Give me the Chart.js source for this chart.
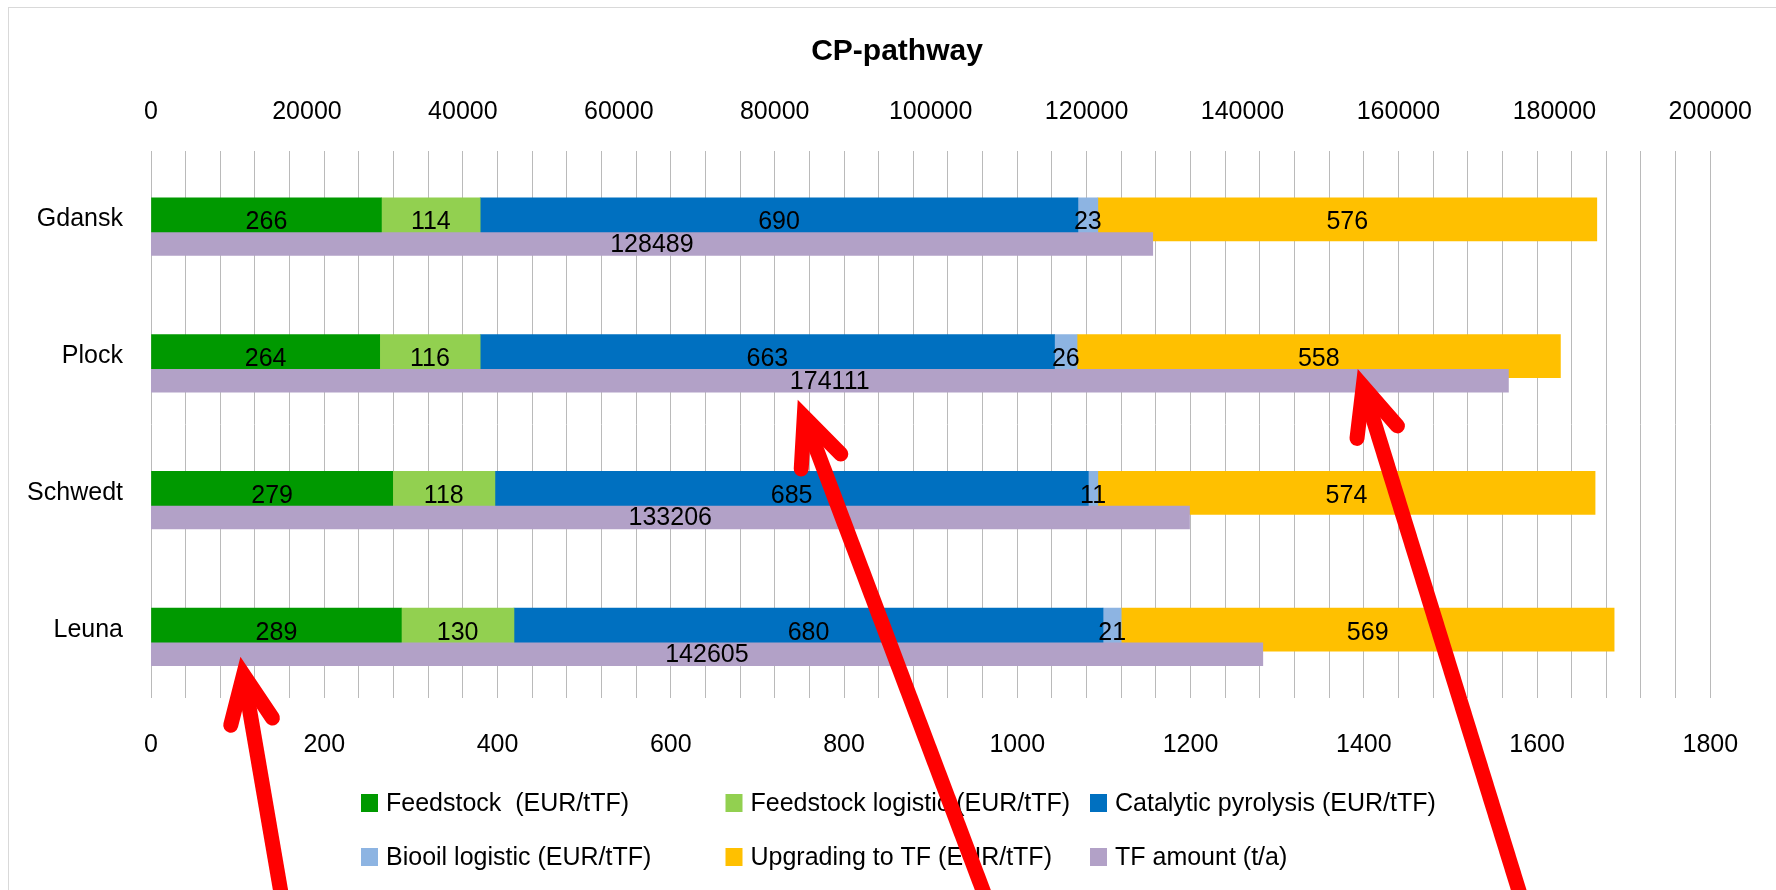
<!DOCTYPE html>
<html>
<head>
<meta charset="utf-8">
<title>CP-pathway</title>
<script src="https://cdn.jsdelivr.net/npm/chart.js@4.4.1/dist/chart.umd.min.js"></script>
<style>
  html, body { margin: 0; padding: 0; background: #ffffff; }
  #wrap { width: 1776px; height: 890px; position: relative; }
</style>
</head>
<body>
<div id="wrap"><canvas id="chart" width="1776" height="890"></canvas></div>
<script>
// ---- data ----
const cities = ['Gdansk', 'Plock', 'Schwedt', 'Leuna'];
const feedstock = [266, 264, 279, 289];
const feedstockLogistic = [114, 116, 118, 130];
const catalyticPyrolysis = [690, 663, 685, 680];
const biooilLogistic = [23, 26, 11, 21];
const upgradingToTF = [576, 558, 574, 569];
const tfAmount = [128489, 174111, 133206, 142605];

const seriesNames = [
  'Feedstock  (EUR/tTF)',
  'Feedstock logistic (EUR/tTF)',
  'Catalytic pyrolysis (EUR/tTF)',
  'Biooil logistic (EUR/tTF)',
  'Upgrading to TF (EUR/tTF)',
  'TF amount (t/a)'
];
const costTickLabels = [0, 200, 400, 600, 800, 1000, 1200, 1400, 1600, 1800];
const amountTickLabels = [0, 20000, 40000, 60000, 80000, 100000, 120000, 140000, 160000, 180000, 200000];

// ---- styling ----
const FONT = "'Liberation Sans', Arial, sans-serif";
const colors = ['#009900', '#92d050', '#0070c0', '#8db4e2', '#ffc000', '#b2a1c7'];
const TF_SHIFT = 0.18;          // amount bar sits just below the cost stack of its row
const GRID_STEP = 40;           // vertical grid spacing on the cost axis

const costSeries = [feedstock, feedstockLogistic, catalyticPyrolysis, biooilLogistic, upgradingToTF];

const datasets = costSeries.map((vals, k) => ({
  label: seriesNames[k],
  data: vals.map((v, i) => ({ x: v, y: i })),
  backgroundColor: colors[k],
  borderWidth: 0,
  barThickness: 43,
  grouped: false,
  stack: 'cost',
  xAxisID: 'x',
  yAxisID: 'y',
  order: 1
}));
datasets.push({
  label: seriesNames[5],
  data: tfAmount.map((v, i) => ({ x: v, y: i + TF_SHIFT })),
  backgroundColor: colors[5],
  borderWidth: 0,
  barThickness: 23,
  grouped: false,
  xAxisID: 'x2',
  yAxisID: 'y',
  order: 0
});

// chart frame (left and top edges)
const framePlugin = {
  id: 'frame',
  beforeDraw(chart) {
    const ctx = chart.ctx;
    ctx.save();
    ctx.fillStyle = '#ffffff';
    ctx.fillRect(0, 0, chart.width, chart.height);
    ctx.strokeStyle = '#d9d9d9';
    ctx.lineWidth = 1;
    ctx.strokeRect(8.5, 7.5, chart.width + 20, chart.height + 20);
    ctx.restore();
  }
};

// chart title
const titlePlugin = {
  id: 'cpTitle',
  afterDraw(chart) {
    const ctx = chart.ctx;
    ctx.save();
    ctx.font = 'bold 30px ' + FONT;
    ctx.fillStyle = '#000000';
    ctx.textAlign = 'center';
    ctx.textBaseline = 'middle';
    ctx.fillText('CP-pathway', 897, 52);
    ctx.restore();
  }
};

// value labels centred in every bar
const valueLabelPlugin = {
  id: 'valueLabels',
  afterDatasetsDraw(chart) {
    const ctx = chart.ctx;
    ctx.save();
    ctx.font = '25px ' + FONT;
    ctx.fillStyle = '#000000';
    ctx.textAlign = 'center';
    ctx.textBaseline = 'middle';
    chart.data.datasets.forEach((ds, di) => {
      const meta = chart.getDatasetMeta(di);
      meta.data.forEach((el, i) => {
        const p = el.getProps(['x', 'y', 'base'], true);
        const cx = (p.x + p.base) / 2;
        const dy = di === 5 ? 1 : 3;
        ctx.fillText(String(ds.data[i].x), cx, p.y + dy);
      });
    });
    ctx.restore();
  }
};

// legend in three aligned columns below the cost axis
const legendLayout = { left: 361, colWidth: 364.5, firstRow: 803, rowGap: 54, boxW: 17, boxH: 18, textGap: 25, cols: 3 };
const gridLegendPlugin = {
  id: 'gridLegend',
  afterDraw(chart) {
    const ctx = chart.ctx;
    const L = legendLayout;
    ctx.save();
    ctx.font = '25px ' + FONT;
    ctx.textAlign = 'left';
    ctx.textBaseline = 'middle';
    chart.data.datasets.forEach((ds, k) => {
      const col = k % L.cols;
      const row = Math.floor(k / L.cols);
      const x = L.left + col * L.colWidth;
      const y = L.firstRow + row * L.rowGap;
      ctx.fillStyle = ds.backgroundColor;
      ctx.fillRect(x, y - L.boxH / 2, L.boxW, L.boxH);
      ctx.fillStyle = '#000000';
      ctx.fillText(ds.label, x + L.textGap, y + 1);
    });
    ctx.restore();
  }
};

// red call-out arrows pointing at selected bars
const callouts = [
  { dataset: 0, index: 3, tip: [-36, 27], dir: [40, 233] },
  { dataset: 5, index: 1, tip: [-32, 19], dir: [185, 490] },
  { dataset: 4, index: 1, tip: [39, 13], dir: [161, 521] }
];
const arrowPlugin = {
  id: 'callouts',
  afterDraw(chart) {
    const ctx = chart.ctx;
    const w = 15, half = 24 * Math.PI / 180, barb = 52;
    ctx.save();
    ctx.strokeStyle = '#ff0000';
    ctx.lineWidth = w;
    callouts.forEach(a => {
      const el = chart.getDatasetMeta(a.dataset).data[a.index];
      const p = el.getProps(['x', 'y', 'base'], true);
      const tx = (p.x + p.base) / 2 + a.tip[0];
      const ty = p.y + a.tip[1];
      const len = Math.hypot(a.dir[0], a.dir[1]);
      const ux = a.dir[0] / len, uy = a.dir[1] / len;
      const back = (w / 2) / Math.sin(half);
      const vx = tx + ux * back, vy = ty + uy * back;
      // shaft, running off the bottom edge
      const reach = (chart.height + 40 - vy) / uy;
      ctx.lineCap = 'butt';
      ctx.beginPath();
      ctx.moveTo(vx, vy);
      ctx.lineTo(vx + ux * reach, vy + uy * reach);
      ctx.stroke();
      // open head
      const ang = Math.atan2(uy, ux);
      ctx.lineCap = 'round';
      ctx.lineJoin = 'miter';
      ctx.miterLimit = 10;
      ctx.beginPath();
      ctx.moveTo(vx + Math.cos(ang + half) * barb, vy + Math.sin(ang + half) * barb);
      ctx.lineTo(vx, vy);
      ctx.lineTo(vx + Math.cos(ang - half) * barb, vy + Math.sin(ang - half) * barb);
      ctx.stroke();
    });
    ctx.restore();
  }
};

const tickFont = { family: FONT, size: 25 };

new Chart(document.getElementById('chart'), {
  type: 'bar',
  data: { labels: cities, datasets },
  plugins: [framePlugin, valueLabelPlugin, gridLegendPlugin, titlePlugin, arrowPlugin],
  options: {
    indexAxis: 'y',
    responsive: false,
    animation: false,
    devicePixelRatio: 1,
    layout: { padding: { left: 10, right: 60, top: 69, bottom: 132 } },
    plugins: {
      legend: { display: false },
      title: { display: false },
      tooltip: { enabled: false }
    },
    scales: {
      x: {
        type: 'linear',
        position: 'bottom',
        stacked: true,
        min: costTickLabels[0],
        max: costTickLabels[costTickLabels.length - 1],
        ticks: {
          stepSize: GRID_STEP,
          autoSkip: false,
          maxRotation: 0,
          padding: 32,
          color: '#000000',
          font: tickFont,
          callback: (v) => costTickLabels.includes(v) ? String(v) : ''
        },
        grid: { color: '#bababa', lineWidth: 1, drawTicks: false },
        border: { display: false },
        afterFit: (s) => { s.height = 60; }
      },
      x2: {
        type: 'linear',
        position: 'top',
        min: amountTickLabels[0],
        max: amountTickLabels[amountTickLabels.length - 1],
        afterBuildTicks: (s) => { s.ticks = amountTickLabels.map(v => ({ value: v })); },
        ticks: {
          autoSkip: false,
          maxRotation: 0,
          padding: 24,
          color: '#000000',
          font: tickFont,
          callback: (v) => String(v)
        },
        grid: { display: false, drawTicks: false },
        border: { display: false },
        afterFit: (s) => { s.height = 82; }
      },
      y: {
        type: 'linear',
        offset: false,
        reverse: true,
        min: -0.5,
        max: cities.length - 0.5,
        afterBuildTicks: (s) => { s.ticks = cities.map((_, i) => ({ value: i })); },
        ticks: {
          autoSkip: false,
          padding: 28,
          color: '#000000',
          font: tickFont,
          callback: (v) => cities[v]
        },
        grid: { display: false, drawTicks: false, offset: false },
        border: { display: false },
        afterFit: (s) => { s.width = 141; }
      }
    }
  }
});
</script>
</body>
</html>
